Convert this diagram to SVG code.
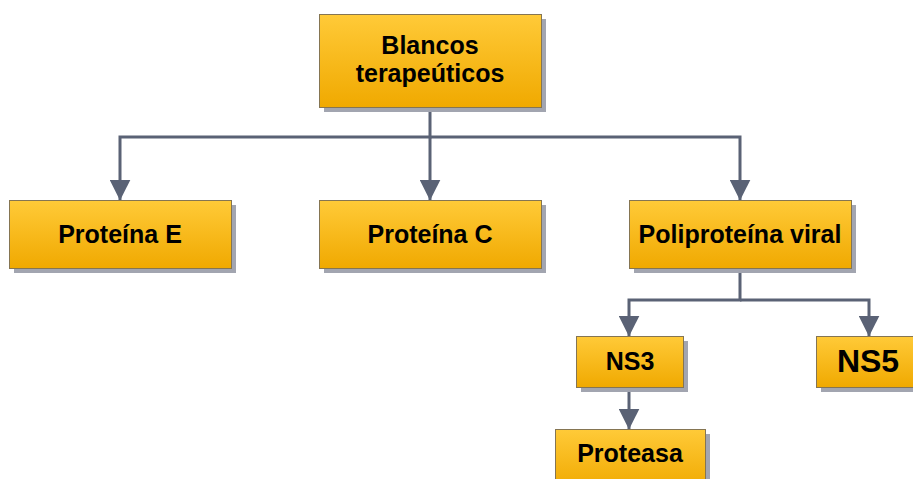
<svg xmlns="http://www.w3.org/2000/svg" width="913" height="479" viewBox="0 0 913 479">
<defs>
<linearGradient id="g" x1="0" y1="0" x2="0" y2="1">
<stop offset="0" stop-color="#FFCA38"/>
<stop offset="1" stop-color="#F0A900"/>
</linearGradient>
<marker id="ah" markerWidth="7" markerHeight="7" refX="6.8" refY="3.5" orient="auto" markerUnits="strokeWidth">
<path d="M0,0 L7,3.5 L0,7 Z" fill="#5A6275"/>
</marker>
<style>
.sh{fill:#A2A5B0}
.bx{fill:url(#g);stroke:#857552;stroke-width:1}
.t{font-family:"Liberation Sans",Arial,sans-serif;font-weight:bold;font-size:25px;fill:#000;text-anchor:middle}
.c{fill:none;stroke:#5A6275;stroke-width:3}
</style>
</defs>
<g id="connectors">
<path class="c" d="M430,107 V137 H120 V200" marker-end="url(#ah)"/>
<path class="c" d="M430,137 V200" marker-end="url(#ah)"/>
<path class="c" d="M430,137 H740 V200" marker-end="url(#ah)"/>
<path class="c" d="M740,268 V300 H629 V336" marker-end="url(#ah)"/>
<path class="c" d="M740,300 H869 V336" marker-end="url(#ah)"/>
<path class="c" d="M629,387 V429" marker-end="url(#ah)"/>
</g>
<g id="blancos">
<rect class="sh" x="324" y="19" width="222" height="93"/>
<rect class="bx" x="319.5" y="14.5" width="222" height="93"/>
<text class="t" x="430" y="54">Blancos</text>
<text class="t" x="430" y="82">terapeúticos</text>
</g>
<g id="proteinaE">
<rect class="sh" x="14" y="205" width="222" height="68"/>
<rect class="bx" x="9.5" y="200.5" width="222" height="68"/>
<text class="t" x="120" y="243">Proteína E</text>
</g>
<g id="proteinaC">
<rect class="sh" x="324" y="205" width="222" height="68"/>
<rect class="bx" x="319.5" y="200.5" width="222" height="68"/>
<text class="t" x="430" y="243">Proteína C</text>
</g>
<g id="poliproteina">
<rect class="sh" x="634" y="205" width="222" height="68"/>
<rect class="bx" x="629.5" y="200.5" width="222" height="68"/>
<text class="t" x="740" y="243">Poliproteína viral</text>
</g>
<g id="ns3">
<rect class="sh" x="581" y="341" width="107" height="51"/>
<rect class="bx" x="576.5" y="336.5" width="107" height="51"/>
<text class="t" x="630" y="370">NS3</text>
</g>
<g id="ns5">
<rect class="sh" x="821" y="341" width="110" height="51"/>
<rect class="bx" x="816.5" y="336.5" width="110" height="51"/>
<text class="t" x="868" y="372" style="font-size:32px">NS5</text>
</g>
<g id="proteasa">
<rect class="sh" x="560" y="434" width="150" height="60"/>
<rect class="bx" x="555.5" y="429.5" width="150" height="60"/>
<text class="t" x="630" y="462">Proteasa</text>
</g>
</svg>
